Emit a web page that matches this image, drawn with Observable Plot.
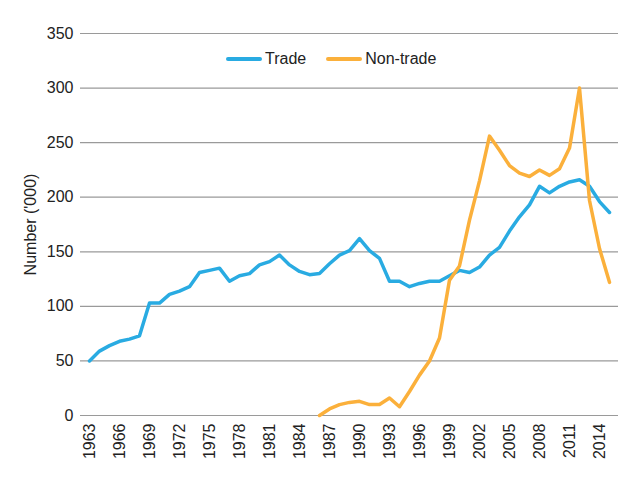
<!DOCTYPE html>
<html>
<head>
<meta charset="utf-8">
<script src="https://cdn.jsdelivr.net/npm/d3@7"></script>
<script src="https://cdn.jsdelivr.net/npm/@observablehq/plot@0.6"></script>
<style>
  html, body { margin: 0; padding: 0; background: #fff; }
  #wrap { position: relative; width: 640px; height: 485px; font-family: "Liberation Sans", Arial, sans-serif; }
  #legend { position: absolute; top: 50px; left: 226px; display: flex; align-items: center; font-size: 16px; color: #222; }
  #legend .item { display: flex; align-items: center; margin-right: 20px; }
  #legend svg { margin-right: 3px; }
</style>
</head>
<body>
<div id="wrap"><div id="legend"></div></div>
<script>
const years = [1963,1964,1965,1966,1967,1968,1969,1970,1971,1972,1973,1974,1975,1976,1977,1978,1979,1980,1981,1982,1983,1984,1985,1986,1987,1988,1989,1990,1991,1992,1993,1994,1995,1996,1997,1998,1999,2000,2001,2002,2003,2004,2005,2006,2007,2008,2009,2010,2011,2012,2013,2014,2015];
const trade = [50,59,64,68,70,73,103,103,111,114,118,131,133,135,123,128,130,138,141,147,138,132,129,130,139,147,151,162,151,144,123,123,118,121,123,123,128,133,131,136,147,154,169,182,193,210,204,210,214,216,210,196,186];
const nonTradeYears = [1986,1987,1988,1989,1990,1991,1992,1993,1994,1995,1996,1997,1998,1999,2000,2001,2002,2003,2004,2005,2006,2007,2008,2009,2010,2011,2012,2013,2014,2015];
const nonTrade = [0,6,10,12,13,10,10,16,8,22,37,50,71,124,137,179,215,256,243,229,222,219,225,220,226,245,300,197,153,122];
const tickYears = [1963,1966,1969,1972,1975,1978,1981,1984,1987,1990,1993,1996,1999,2002,2005,2008,2011,2014];
const yTicks = [0,50,100,150,200,250,300,350];
const seriesNames = ["Trade", "Non-trade"];
const seriesColors = ["#29abe2", "#fbb03b"];

const tradeData = years.map((y, i) => ({year: y, value: trade[i], series: "Trade"}));
const nonTradeData = nonTradeYears.map((y, i) => ({year: y, value: nonTrade[i], series: "Non-trade"}));

const chart = Plot.plot({
  width: 640,
  height: 485,
  marginLeft: 80,
  marginRight: 22,
  marginTop: 33,
  marginBottom: 70,
  style: {fontFamily: "Liberation Sans, Arial, sans-serif", fontSize: "16px", color: "#222", background: "#fff"},
  x: {type: "point", domain: years, padding: 0.5, ticks: tickYears, tickFormat: d => String(d), tickRotate: -90, tickSize: 0, tickPadding: 8, label: null},
  y: {domain: [0, 350], ticks: yTicks, tickSize: 0, tickPadding: 7, label: "Number ('000)", labelArrow: "none", labelAnchor: "center", labelOffset: 56},
  color: {domain: seriesNames, range: seriesColors},
  marks: [
    Plot.gridY(yTicks, {stroke: "#9a9a9a", strokeOpacity: 1, strokeWidth: 1.2}),
    Plot.line(tradeData, {x: "year", y: "value", stroke: "series", strokeWidth: 3.5, strokeLinejoin: "round"}),
    Plot.line(nonTradeData, {x: "year", y: "value", stroke: "series", strokeWidth: 3.5, strokeLinejoin: "round"})
  ]
});
document.getElementById("wrap").prepend(chart);

const legend = document.getElementById("legend");
seriesNames.forEach((name, i) => {
  const item = document.createElement("div");
  item.className = "item";
  item.innerHTML = `<svg width="36" height="10"><line x1="2" y1="5" x2="34" y2="5" stroke="${seriesColors[i]}" stroke-width="4" stroke-linecap="round"/></svg><span>${name}</span>`;
  legend.appendChild(item);
});
</script>
</body>
</html>
